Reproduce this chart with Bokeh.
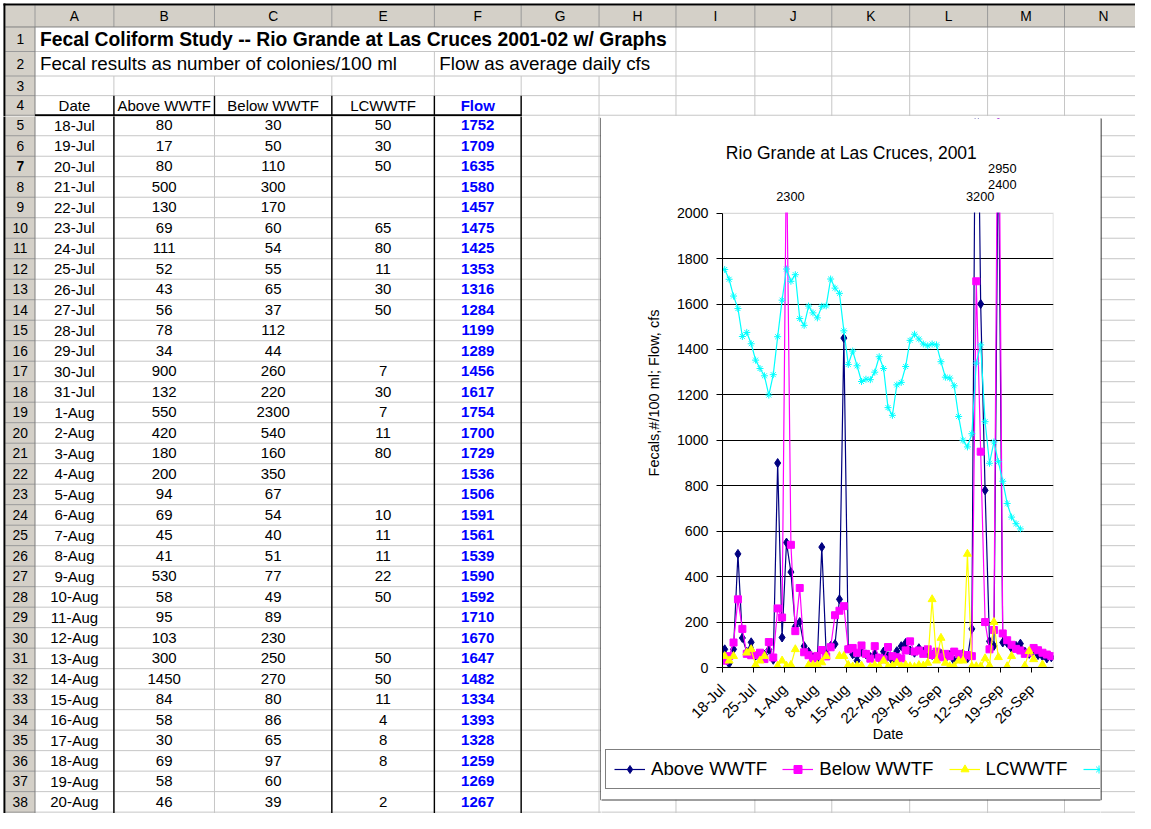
import numpy as np
import pandas as pd
from bokeh.plotting import figure
from bokeh.models import (Range1d, FixedTicker, Legend, LegendItem, Label, ColumnDataSource,
                          BoxAnnotation)
from bokeh.layouts import column, row
from bokeh.embed import file_html
from bokeh.resources import INLINE
from bokeh.core.properties import value

FONT = "Liberation Sans"

# ---------------------------------------------------------------- data
first_day, last_day = "2001-07-18", "2001-09-30"

above_wwtf = [80, 17, 80, 500, 130, 69, 111, 52, 43, 56, 78, 34, 900, 132, 550, 420, 180,
              200, 94, 69, 45, 41, 530, 58, 95, 103, 300, 1450, 84, 58, 30, 69, 58, 46,
              60, 40, 70, 50, 30, 72, 94, 108, 75, 65, 85, 70, 60, 55, 45, 60, 40, 55, 30,
              50, 60, 40, 170, 3200, 1600, 780, 115, 95, 2400, 110, 108, 85, 95, 105, 70,
              60, 75, 55, 50, 40, 45]
below_wwtf = [30, 50, 110, 300, 170, 60, 54, 55, 65, 37, 112, 44, 260, 220, 2300, 540, 160,
              350, 67, 54, 40, 51, 77, 49, 89, 230, 250, 270, 80, 86, 65, 97, 60, 39,
              94, 43, 36, 90, 50, 45, 40, 75, 115, 70, 75, 60, 80, 55, 70, 45, 60, 50, 70,
              60, 45, 55, 50, 1700, 950, 200, 80, 165, 2950, 150, 120, 100, 82, 75, 60,
              65, 86, 76, 65, 57, 50]
lcwwtf = [50, 30, 50, None, None, 65, 80, 11, 30, 50, None, None, 7, 30, 7, 11, 80,
          None, None, 10, 11, 11, 22, 50, None, None, 50, 50, 11, 4, 8, 8, None, 2,
          10, 5, 30, 4, 8, 20, 5, 11, 5, 2, 10, 8, 20, 300, 30, 130, 20, 5, 5,
          30, 30, 500, 5, 5, 5, 40, 8, 200, 45, None, 5, 50, None, None, 7,
          72, 36, None, 13, None, None]
flow_cfs = [1752, 1709, 1635, 1580, 1457, 1475, 1425, 1353, 1316, 1284, 1199, 1289, 1456,
            1617, 1754, 1700, 1729, 1536, 1506, 1591, 1561, 1539, 1590, 1592, 1710, 1670,
            1647, 1482, 1334, 1393, 1328, 1259, 1269, 1267,
            1300, 1368, 1316, 1144, 1110, 1244, 1255, 1325, 1440, 1467, 1446, 1424, 1416,
            1424, 1420, 1346, 1278, 1274, 1240, 1105, 1000, 971, 1029, 1340, 1420, 1082,
            899, 993, 906, 820, 722, 662, 633, 610,
            None, None, None, None, None, None, None]

tick_labels = ["18-Jul", "25-Jul", "1-Aug", "8-Aug", "15-Aug", "22-Aug", "29-Aug",
               "5-Sep", "12-Sep", "19-Sep", "26-Sep"]

# points labelled above the plot area (value exceeds the axis)
label_series = ["below", "above", "above", "below"]
label_dates = ["2001-08-01", "2001-09-13", "2001-09-18", "2001-09-18"]
label_level = [0, 0, 1, 2]

table_rows = 34
sheet_title = "Fecal Coliform Study -- Rio Grande at Las Cruces 2001-02 w/ Graphs"
sheet_note1 = "Fecal results as number of colonies/100 ml"
sheet_note2 = "Flow as average daily cfs"
col_headers = ["Date", "Above WWTF", "Below WWTF", "LCWWTF", "Flow"]
chart_title = "Rio Grande at Las Cruces, 2001"
series_names = ["Above WWTF", "Below WWTF", "LCWWTF", "Flow"]

# ---------------------------------------------------------------- geometry
W, H = 1135, 813
RW, RH = 1151, 829
SX, SY = W / RW, H / RH

COLX = [5, 35, 115, 217, 336, 440, 528, 607, 685, 765, 843, 922, 1001, 1079, 1158]
COL_LETTERS = ["A", "B", "C", "E", "F", "G", "H", "I", "J", "K", "L", "M", "N"]
ROWY = [5, 27, 52, 77, 97, 117] + [117 + 20.9 * k for k in range(1, 35)]
BOX = (609, 1116, 120, 815)   # chart box in reference px (l, r, t, b)
CLIP = {"overflow": "hidden", "clip-path": "inset(0px)"}


def ccx(i):
    return (COLX[i] + COLX[i + 1]) / 2


def rcy(r):
    return (ROWY[r] + ROWY[r + 1]) / 2


dates = pd.date_range(first_day, last_day, freq="D")
day_labels = [f"{d.day}-{d.strftime('%b')}" for d in dates]

HDR = "#d4d0c8"
GRID = "#c6c6c6"


def draw_sheet(f, bx0, bx1, by0, by1):
    def inside(x, y):
        return bx0 <= x < bx1 and by0 <= y < by1

    def put_text(xs, ys, ts, **kw):
        keep = [(x, y, t) for x, y, t in zip(xs, ys, ts) if inside(x, y)]
        if keep:
            f.text(x=[k[0] for k in keep], y=[k[1] for k in keep], text=[k[2] for k in keep],
                   text_baseline="middle", text_font=value(FONT), **kw)

    f.quad(left=[5, 5], right=[RW, 35], top=[5, 27], bottom=[27, RH],
           fill_color=HDR, line_color=None)
    x0s, y0s, x1s, y1s = [], [], [], []
    for y in ROWY[2:]:
        x0s.append(35); x1s.append(RW); y0s.append(y); y1s.append(y)
    for x in COLX[2:14]:
        ys = 27 if x >= 685 else (52 if x == 440 else 77)
        x0s.append(x); x1s.append(x); y0s.append(ys); y1s.append(RH)
    f.segment(x0=x0s, y0=y0s, x1=x1s, y1=y1s, line_color=GRID, line_width=1)

    hx0, hy0, hx1, hy1 = [], [], [], []
    for x in COLX[1:14]:
        hx0.append(x); hx1.append(x); hy0.append(5); hy1.append(27)
    for y in ROWY[2:]:
        hx0.append(5); hx1.append(35); hy0.append(y); hy1.append(y)
    f.segment(x0=hx0, y0=hy0, x1=hx1, y1=hy1, line_color="#9a9a9a", line_width=1)
    f.segment(x0=[5, 35], y0=[27, 27], x1=[RW, 35], y1=[27, RH], line_color="#808080",
              line_width=1)
    f.segment(x0=[3, 4], y0=[4, 3], x1=[RW, 4], y1=[4, RH], line_color="black", line_width=2)

    sx0, sy0, sx1, sy1 = [], [], [], []
    for x in [115, 217, 336, 440, 528]:
        sx0.append(x); sx1.append(x); sy0.append(97)
        sy1.append(117 if x == 217 else RH)
    f.segment(x0=sx0, y0=sy0, x1=sx1, y1=sy1, line_color="black", line_width=1.4)
    f.segment(x0=[35], y0=[117], x1=[528], y1=[117], line_color="black", line_width=2.2)

    l, r, t, b = BOX
    f.quad(left=[l], right=[r], top=[t], bottom=[b], fill_color="white",
           line_color="#404040", line_width=1.4)

    put_text([ccx(i) for i in range(1, 14)], [rcy(0)] * 13, COL_LETTERS,
             text_align="center", text_font_size="13.8px", text_color="black")
    rows = [k for k in range(1, 39) if k != 7]
    put_text([20] * len(rows), [rcy(k) for k in rows], [str(k) for k in rows],
             text_align="center", text_font_size="13.8px", text_color="black")
    put_text([20], [rcy(7)], ["7"], text_align="center", text_font_size="13.8px",
             text_font_style="bold", text_color="black")

    put_text([40], [rcy(1)], [sheet_title], text_align="left", text_font_size="19.3px",
             text_font_style="bold", text_color="black")
    put_text([40, 445], [rcy(2), rcy(2)], [sheet_note1, sheet_note2], text_align="left",
             text_font_size="18.8px", text_color="black")

    put_text([ccx(i) for i in range(1, 5)], [rcy(4)] * 4, col_headers[:4],
             text_align="center", text_font_size="15px", text_color="black")
    put_text([ccx(5)], [rcy(4)], [col_headers[4]], text_align="center",
             text_font_size="15px", text_font_style="bold", text_color="#0000ff")

    tx, ty, tt, fx, fy, ft = [], [], [], [], [], []
    for k in range(table_rows):
        yy = rcy(5 + k)
        cells = [day_labels[k], above_wwtf[k], below_wwtf[k], lcwwtf[k]]
        for ci, v in enumerate(cells):
            if v is None:
                continue
            tx.append(ccx(ci + 1)); ty.append(yy); tt.append(str(v))
        fx.append(ccx(5)); fy.append(yy); ft.append(str(flow_cfs[k]))
    put_text(tx, ty, tt, text_align="center", text_font_size="15px", text_color="black")
    put_text(fx, fy, ft, text_align="center", text_font_size="15px",
             text_font_style="bold", text_color="#0000ff")


def piece(px_x0, px_x1, px_y0, px_y1):
    rx0, rx1, ry0, ry1 = px_x0 / SX, px_x1 / SX, px_y0 / SY, px_y1 / SY
    f = figure(width=px_x1 - px_x0, height=px_y1 - px_y0, title=None,
               x_range=Range1d(rx0, rx1), y_range=Range1d(ry1, ry0),
               x_axis_type=None, y_axis_type=None, toolbar_location=None,
               output_backend="svg", min_border=0, frame_align=False)
    f.outline_line_color = None
    f.background_fill_color = "white"
    f.border_fill_color = "white"
    draw_sheet(f, rx0, rx1, ry0, ry1)
    return f


# pixel split of the page around the chart box
PX_HEAD = 116                 # bottom of the top strip (between rows 4 and 5)
PX_TOP = 118                  # top of the chart canvas
PX_BOT = 799                  # bottom of the chart box
PX_L, PX_R = 601, 1100        # left / right of the chart box
PX_LEG = round(764 * SY)      # top of the legend strip

top_piece = piece(0, W, 0, PX_HEAD)
left_piece = piece(0, PX_L, PX_HEAD, H)
gap_piece = piece(PX_L, W, PX_HEAD, PX_TOP)
right_piece = piece(PX_R, W, PX_TOP, H)
under_piece = piece(PX_L, PX_R, PX_BOT, H)

# ---------------------------------------------------------------- chart
FL, FT, FR, FB = 731.7, 216.7, 1067.7, 680    # plot area (reference px)
cw = PX_R - PX_L
ch = PX_LEG - PX_TOP
mb_left = round(FL * SX - PX_L)
mb_right = round(PX_R - FR * SX)
mb_bottom = round(PX_LEG - FB * SY)
frame_h = ch - mb_bottom
px_per_unit = (FB - FT) * SY / 2000.0
y_top = frame_h / px_per_unit

ms = lambda t: pd.Timestamp(t).value / 1e6
x0 = ms(first_day)
x1 = ms(pd.Timestamp(last_day) + pd.Timedelta(days=1))
x_pts = [ms(d + pd.Timedelta(hours=12)) for d in dates]


def arr(v):
    return np.array([np.nan if a is None else a for a in v], dtype=float)


src = ColumnDataSource(dict(x=x_pts, above=arr(above_wwtf), below=arr(below_wwtf),
                            lcw=arr(lcwwtf), flow=arr(flow_cfs)))

chart = figure(width=cw, height=ch, x_axis_type="datetime", title=None,
               x_range=Range1d(x0, x1), y_range=Range1d(0, y_top),
               output_backend="svg", toolbar_location=None, frame_align=False,
               min_border_left=mb_left, min_border_right=mb_right,
               min_border_top=0, min_border_bottom=mb_bottom)
chart.border_fill_color = "white"
chart.background_fill_color = "white"
chart.outline_line_color = None
chart.styles = CLIP

chart.xgrid.visible = False
chart.ygrid.ticker = FixedTicker(ticks=list(range(200, 2000, 200)))
chart.ygrid.grid_line_color = "black"
chart.ygrid.grid_line_width = 1.2

tick_ms = [ms(pd.to_datetime(t + "-2001", format="%d-%b-%Y")) for t in tick_labels]
xa = chart.xaxis[0]
xa.ticker = FixedTicker(ticks=tick_ms)
xa.major_label_overrides = {t: l for t, l in zip(tick_ms, tick_labels)}
xa.major_label_orientation = np.pi / 4
xa.major_tick_in = 0
xa.major_tick_out = 5
xa.minor_tick_in = 0
xa.minor_tick_out = 0
xa.axis_label = "Date"
ya = chart.yaxis[0]
ya.ticker = FixedTicker(ticks=list(range(0, 2001, 200)))
ya.bounds = (0, 2000)
ya.major_tick_in = 0
ya.major_tick_out = 6
ya.minor_tick_in = 0
ya.minor_tick_out = 0
ya.axis_label = "Fecals,#/100 ml; Flow, cfs"
for ax in (xa, ya):
    ax.axis_line_color = "black"
    ax.major_tick_line_color = "black"
    ax.major_label_text_font = FONT
    ax.major_label_text_color = "black"
    ax.axis_label_text_font = FONT
    ax.axis_label_text_font_size = "14.5px"
    ax.axis_label_text_font_style = "normal"
    ax.axis_label_text_color = "black"
xa.major_label_text_font_size = "15px"
ya.major_label_text_font_size = "14.2px"
ya.major_label_standoff = 8
ya.axis_label_standoff = 12
xa.major_label_standoff = 14
xa.axis_label_standoff = -10

# plot-area border (grey top/right), drawn under the data
chart.add_layout(BoxAnnotation(left=x0, right=x1, bottom=0, top=2000, fill_alpha=0,
                               line_color="#808080", line_width=1.5, level="underlay"))

NAVY, MAG, YEL, CYAN = "#000080", "#ff00ff", "#ffff00", "#00ffff"
styles = [dict(col="above", color=NAVY, marker="diamond", size=9),
          dict(col="below", color=MAG, marker="square", size=7),
          dict(col="lcw", color=YEL, marker="triangle", size=8),
          dict(col="flow", color=CYAN, marker="asterisk", size=7)]
for st in styles:
    chart.line("x", st["col"], source=src, line_color=st["color"], line_width=1.2)
    chart.scatter("x", st["col"], source=src, marker=st["marker"], size=st["size"],
                  fill_color=st["color"], line_color=st["color"])

# everything above 2000 is outside Excel's plot area: mask it
chart.add_layout(BoxAnnotation(bottom=2003, fill_color="white", fill_alpha=1,
                               line_color=None))

series_by_name = {"above": above_wwtf, "below": below_wwtf}
level_y = [(FB - 200) / (FB - FT) * 2000, (FB - 188) / (FB - FT) * 2000,
           (FB - 171) / (FB - FT) * 2000]
day_ms = 86400000.0
date_list = list(dates)
for s, d, lv in zip(label_series, label_dates, label_level):
    i = date_list.index(pd.Timestamp(d))
    chart.add_layout(Label(x=x_pts[i] + 0.9 * day_ms, y=level_y[lv],
                           text=str(series_by_name[s][i]), text_align="center",
                           text_baseline="middle", text_font=FONT,
                           text_font_size="12.8px", text_color="black"))

title_x = x0 + ((BOX[0] + BOX[1]) / 2 - FL) / (FR - FL) * (x1 - x0)
title_y = (FB - 155) / (FB - FT) * 2000
chart.add_layout(Label(x=title_x, y=title_y, text=chart_title, text_align="center",
                       text_baseline="middle", text_font=FONT, text_font_size="17.5px",
                       text_color="black"))

# ---------------------------------------------------------------- legend strip
leg_h = PX_BOT - PX_LEG
legfig = figure(width=cw, height=leg_h, x_range=Range1d(0, 1), y_range=Range1d(0, 1),
                title=None, x_axis_type=None, y_axis_type=None, toolbar_location=None,
                output_backend="svg", min_border=0, frame_align=False)
legfig.outline_line_color = None
legfig.background_fill_color = "white"
legfig.border_fill_color = "white"
legfig.styles = CLIP
items = []
for name, st in zip(series_names, styles):
    # same data as the chart; it lies outside this strip's ranges, only the legend shows
    rl = legfig.line("x", st["col"], source=src, line_color=st["color"], line_width=1.2)
    rm = legfig.scatter("x", st["col"], source=src, marker=st["marker"], size=st["size"],
                        fill_color=st["color"], line_color=st["color"])
    items.append(LegendItem(label=name, renderers=[rl, rm]))
legend = Legend(items=items, orientation="horizontal",
                location=(round((614 - PX_L / SX) * SX), round(PX_BOT - 805 * SY)))
legend.border_line_color = "black"
legend.border_line_width = 1
legend.background_fill_color = "white"
legend.background_fill_alpha = 1
legend.label_text_font = FONT
legend.label_text_font_size = "18.7px"
legend.label_text_color = "black"
legend.glyph_width = 31
legend.glyph_height = 20
legend.label_standoff = 6
legend.spacing = 15
legend.padding = 8
legend.margin = 0
legfig.add_layout(legend, "center")

right_side = column(gap_piece,
                    row(column(chart, legfig, under_piece), right_piece))
layout = column(top_piece, row(left_piece, right_side))
open("out.html", "w").write(file_html(layout, INLINE))
